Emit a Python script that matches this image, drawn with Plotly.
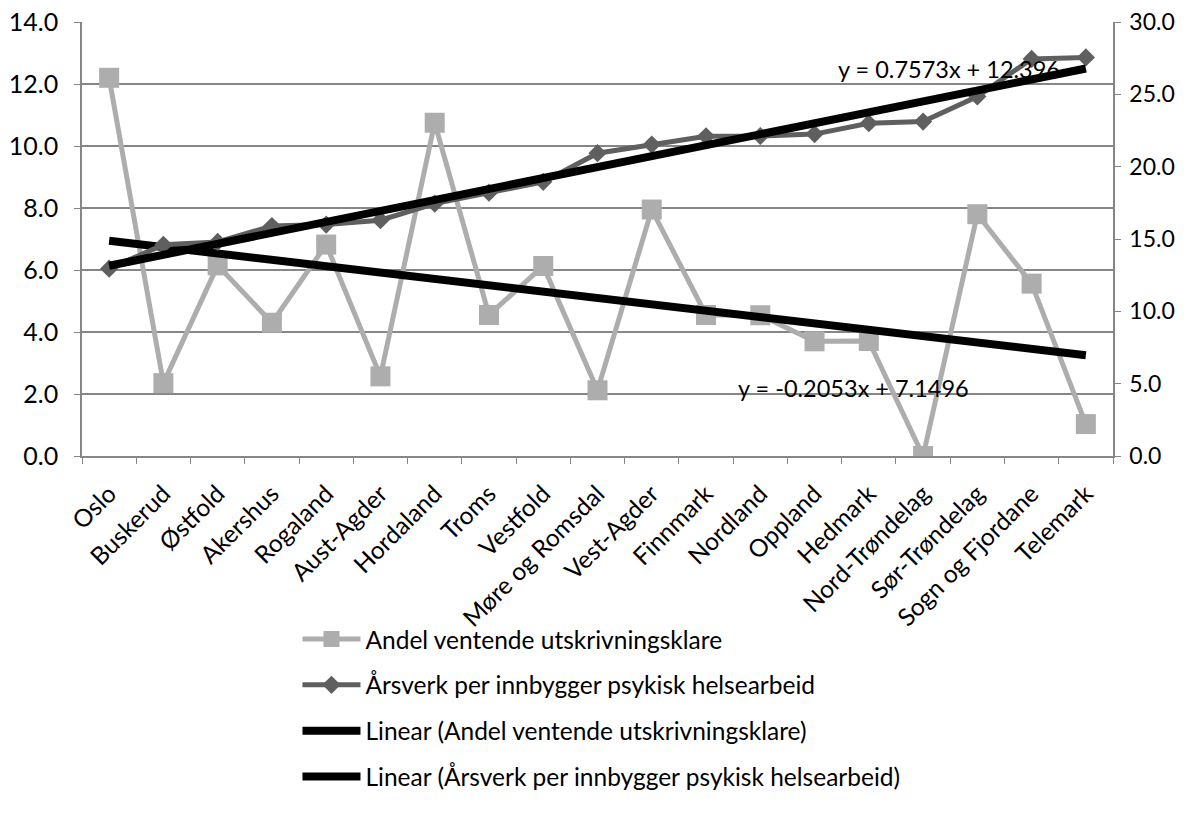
import plotly.graph_objects as go

categories = ["Oslo", "Buskerud", "Østfold", "Akershus", "Rogaland", "Aust-Agder",
              "Hordaland", "Troms", "Vestfold", "Møre og Romsdal", "Vest-Agder",
              "Finnmark", "Nordland", "Oppland", "Hedmark", "Nord-Trøndelag",
              "Sør-Trøndelag", "Sogn og Fjordane", "Telemark"]

andel = [12.2, 2.35, 6.15, 4.3, 6.82, 2.57, 10.75, 4.55, 6.13, 2.12, 7.95,
         4.55, 4.54, 3.7, 3.71, 0.0, 7.8, 5.56, 1.03]

aarsverk = [12.95, 14.6, 14.8, 15.9, 16.0, 16.3, 17.45, 18.2, 18.95, 20.93, 21.53,
            22.1, 22.12, 22.25, 23.0, 23.12, 24.85, 27.45, 27.55]

# trendline coefficients as printed on the chart
trend_andel = (-0.2053, 7.1496)
trend_aarsverk = (0.7573, 12.396)

names = ["Andel ventende utskrivningsklare",
         "Årsverk per innbygger psykisk helsearbeid",
         "Linear (Andel ventende utskrivningsklare)",
         "Linear (Årsverk per innbygger psykisk helsearbeid)"]

idx = list(range(1, len(categories) + 1))
trendA = [trend_andel[0] * i + trend_andel[1] for i in idx]
trendB = [trend_aarsverk[0] * i + trend_aarsverk[1] for i in idx]

FONT = "Lato, Carlito, Calibri, 'Open Sans', sans-serif"
GRID = "#868686"

fig = go.Figure()
fig.add_trace(go.Scatter(x=categories, y=andel, name=names[0], mode="lines+markers",
                         line=dict(color="#ADADAD", width=5),
                         marker=dict(symbol="square", size=20, color="#ADADAD"),
                         legendgroup="a", yaxis="y"))
fig.add_trace(go.Scatter(x=categories, y=aarsverk, name=names[1], mode="lines+markers",
                         line=dict(color="#5F5F5F", width=5),
                         marker=dict(symbol="diamond", size=14, color="#5F5F5F"),
                         legendgroup="b", yaxis="y2"))
fig.add_trace(go.Scatter(x=categories, y=trendA, name=names[2], mode="lines",
                         line=dict(color="#000000", width=8),
                         legendgroup="c", yaxis="y"))
fig.add_trace(go.Scatter(x=categories, y=trendB, name=names[3], mode="lines",
                         line=dict(color="#000000", width=8),
                         legendgroup="d", yaxis="y2"))

fig.update_layout(
    width=1181, height=813,
    margin=dict(l=74, r=76, t=14, b=365, autoexpand=False),
    paper_bgcolor="white", plot_bgcolor="white",
    font=dict(family=FONT, color="#000000", size=24),
    showlegend=True,
    legend=dict(orientation="v", x=0.209, xanchor="left", y=-0.37, yanchor="top",
                font=dict(size=24.5), traceorder="grouped", tracegroupgap=11,
                itemwidth=58, bgcolor="rgba(0,0,0,0)"),
    xaxis=dict(type="category", tickangle=-45, tickson="boundaries",
               ticks="outside", ticklen=6, tickcolor=GRID, automargin=False,
               showline=True, linecolor=GRID, linewidth=1.5, ticklabelstandoff=12,
               showgrid=False, tickfont=dict(size=24.5, family=FONT),
               range=[-0.5, len(categories) - 0.5]),
    yaxis=dict(range=[0, 14], dtick=2, tickformat=".1f", showgrid=True,
               gridcolor=GRID, gridwidth=1.5, ticks="outside", ticklen=6,
               tickcolor=GRID, showline=True, linecolor=GRID, linewidth=1.5,
               ticklabelstandoff=11, ticklabeloverflow="allow",
               zeroline=False, automargin=False, tickfont=dict(size=25, family=FONT)),
    yaxis2=dict(range=[0, 30], dtick=5, tickformat=".1f", overlaying="y",
                side="right", showgrid=False, ticks="outside", ticklen=6,
                tickcolor=GRID, showline=True, linecolor=GRID, linewidth=1.5,
                ticklabelstandoff=4, ticklabeloverflow="allow",
                zeroline=False, automargin=False, tickfont=dict(size=23, family=FONT)),
    annotations=[
        dict(text="y = 0.7573x + 12.396", xref="paper", yref="paper",
             x=0.841, y=0.892, xanchor="center", yanchor="middle",
             showarrow=False, font=dict(size=23.5, family=FONT)),
        dict(text="y = -0.2053x + 7.1496", xref="paper", yref="paper",
             x=0.748, y=0.157, xanchor="center", yanchor="middle",
             showarrow=False, font=dict(size=23.5, family=FONT)),
    ],
)

fig.write_html("out.html")
